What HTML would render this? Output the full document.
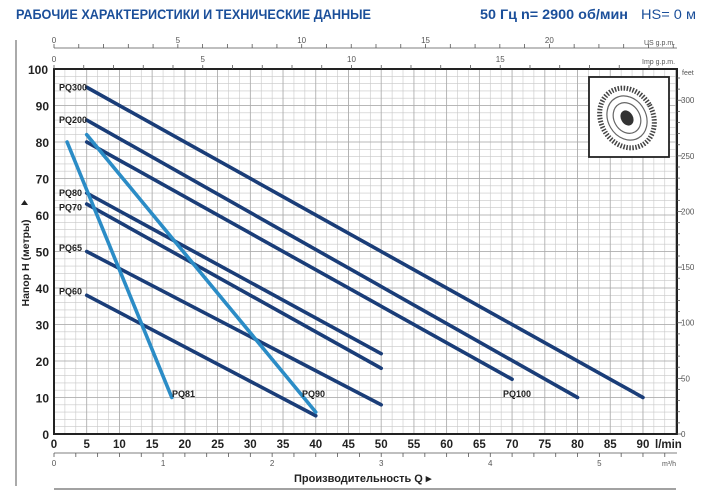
<!DOCTYPE html>
<html><head><meta charset="utf-8"><style>
body{margin:0;background:#fff;width:708px;height:500px;overflow:hidden}
svg{display:block}
text{font-family:"Liberation Sans",sans-serif}
</style></head><body>
<svg id="s" width="708" height="500" xmlns="http://www.w3.org/2000/svg">
<text x="16" y="19" font-size="13.5" font-weight="bold" fill="#1b4f9a" textLength="355" lengthAdjust="spacingAndGlyphs">РАБОЧИЕ ХАРАКТЕРИСТИКИ И ТЕХНИЧЕСКИЕ ДАННЫЕ</text>
<text x="480" y="19" font-size="13.5" font-weight="bold" fill="#1b4f9a" textLength="148" lengthAdjust="spacingAndGlyphs">50 Гц   n= 2900 об/мин</text>
<text x="641" y="19" font-size="13.5" fill="#1b4f9a" textLength="55" lengthAdjust="spacingAndGlyphs">HS= 0 м</text>
<line x1="16" y1="40" x2="16" y2="486" stroke="#555" stroke-width="1"/>
<g id="g"></g>
</svg>
<script>
const g=document.getElementById('g');
const X0=54,XK=6.544,Y0=434,YK=3.65,XR=677,YT=69;
const X=q=>X0+q*XK,Y=h=>Y0-h*YK;
let s='';
for(let q=5/3;X(q)<XR;q+=5/3){s+=`<line x1="${X(q)}" y1="${YT}" x2="${X(q)}" y2="${Y0}" stroke="#c8c8c8" stroke-width="0.6"/>`}
for(let h=2;h<100;h+=2){s+=`<line x1="${X0}" y1="${Y(h)}" x2="${XR}" y2="${Y(h)}" stroke="#c8c8c8" stroke-width="0.6"/>`}
for(let q=5;X(q)<XR;q+=5){s+=`<line x1="${X(q)}" y1="${YT}" x2="${X(q)}" y2="${Y0}" stroke="#aaa" stroke-width="0.8"/>`}
for(let h=10;h<100;h+=10){s+=`<line x1="${X0}" y1="${Y(h)}" x2="${XR}" y2="${Y(h)}" stroke="#aaa" stroke-width="0.8"/>`}
s+=`<rect x="${X0}" y="${YT}" width="${XR-X0}" height="${Y0-YT}" fill="none" stroke="#222" stroke-width="2"/>`;
for(let h=0;h<=100;h+=10){s+=`<text x="${h==100?48:49}" y="${Y(h)+5}" font-size="12" font-weight="bold" text-anchor="end" fill="#222">${h}</text>`}
for(let q=0;q<=90;q+=5){s+=`<text x="${X(q)}" y="448" font-size="11.5" font-weight="bold" text-anchor="middle" fill="#222">${q}</text>`}
s+=`<text x="655" y="448" font-size="11.5" font-weight="bold" fill="#222">l/min</text>`;
s+=`<line x1="${X0}" y1="453" x2="${XR}" y2="453" stroke="#555" stroke-width="0.8"/>`;
for(let m=0;m*16.667<=94;m+=0.2){let x=X(m*16.667);s+=`<line x1="${x}" y1="453" x2="${x}" y2="457" stroke="#555" stroke-width="0.8"/>`}
for(let m=0;m<=5;m++){s+=`<text x="${X(m*16.667)}" y="466" font-size="8" text-anchor="middle" fill="#555">${m}</text>`}
s+=`<text x="662" y="466" font-size="7" fill="#555">m³/h</text>`;
s+=`<text x="294" y="482" font-size="11" font-weight="bold" fill="#222">Производительность Q  ▸</text>`;
s+=`<line x1="54" y1="489" x2="676" y2="489" stroke="#444" stroke-width="1"/>`;
s+=`<line x1="${X0}" y1="48" x2="${XR}" y2="48" stroke="#555" stroke-width="0.8"/>`;
for(let u=0;X(u*3.785)<XR;u+=1){let x=X(u*3.785);s+=`<line x1="${x}" y1="48" x2="${x}" y2="44" stroke="#555" stroke-width="0.8"/>`}
for(let u=0;u<=20;u+=5){s+=`<text x="${X(u*3.785)}" y="43" font-size="8" text-anchor="middle" fill="#555">${u}</text>`}
s+=`<text x="644" y="45" font-size="7" fill="#555">US g.p.m.</text>`;
for(let u=0;X(u*4.546)<XR;u+=1){let x=X(u*4.546);s+=`<line x1="${x}" y1="${YT}" x2="${x}" y2="${YT-4}" stroke="#555" stroke-width="0.8"/>`}
for(let u=0;u<=15;u+=5){s+=`<text x="${X(u*4.546)}" y="62" font-size="8" text-anchor="middle" fill="#555">${u}</text>`}
s+=`<text x="642" y="64" font-size="7" fill="#555">Imp g.p.m.</text>`;
for(let f=0;f<=320;f+=10){let y=Y(f*0.3048);s+=`<line x1="${XR}" y1="${y}" x2="${XR+(f%50==0?5:3)}" y2="${y}" stroke="#555" stroke-width="0.8"/>`;
 if(f%50==0)s+=`<text x="${XR+4}" y="${y+3}" font-size="8" fill="#555">${f}</text>`}
s+=`<text x="682" y="75" font-size="7" fill="#555">feet</text>`;
s+=`<text transform="translate(29,263) rotate(-90)" font-size="10.5" font-weight="bold" text-anchor="middle" fill="#222">Напор H (метры)</text>`;
s+=`<path d="M21 205 l3.5 -5 l3.5 5z" fill="#222"/>`;
s+=`<rect x="589" y="77" width="80" height="80" fill="#fff" stroke="#222" stroke-width="1.8"/>`;
s+=`<g transform="translate(627,118) rotate(-30)"><ellipse rx="26" ry="31" fill="none" stroke="#444" stroke-width="5" stroke-dasharray="1.5 1.5"/><ellipse rx="19" ry="23" fill="none" stroke="#666" stroke-width="1.2"/><ellipse rx="13" ry="16" fill="none" stroke="#666" stroke-width="1.2"/><ellipse rx="6" ry="8" fill="#333"/></g>`;
const D='#1a3d78',L='#2b8cc6';
const ser=[[5,95,90,10,D],[5,86,80,10,D],[5,80,70,15,D],[5,66,50,22,D],[5,63,50,18,D],[5,50,50,8,D],[5,38,40,5,D],[5,82,40,6,L],[2,80,18,10,L]];
for(const [a,b,c,d,col] of ser){s+=`<line x1="${X(a)}" y1="${Y(b)}" x2="${X(c)}" y2="${Y(d)}" stroke="${col}" stroke-width="3.6" stroke-linecap="round"/>`}
const lab=[['PQ300',95],['PQ200',86],['PQ80',66],['PQ70',62],['PQ65',51],['PQ60',39]];
for(const [t,h] of lab){s+=`<text x="59" y="${Y(h)+3}" font-size="9" font-weight="bold" fill="#222">${t}</text>`}
s+=`<text x="172" y="${Y(11)+3}" font-size="9" font-weight="bold" fill="#222">PQ81</text>`;
s+=`<text x="302" y="${Y(11)+3}" font-size="9" font-weight="bold" fill="#222">PQ90</text>`;
s+=`<text x="503" y="${Y(11)+3}" font-size="9" font-weight="bold" fill="#222">PQ100</text>`;
g.innerHTML=s;
</script>
</body></html>
